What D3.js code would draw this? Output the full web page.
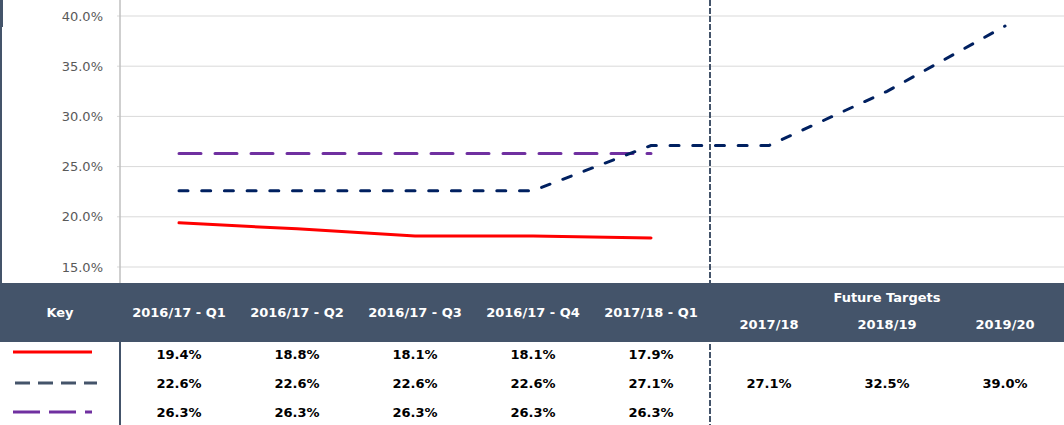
<!DOCTYPE html>
<html>
<head>
<meta charset="utf-8">
<script src="https://cdn.jsdelivr.net/npm/d3@7/dist/d3.min.js"></script>
<style>
  body { margin: 0; background: #fff; }
  svg { display: block; font-family: "DejaVu Sans", sans-serif; }
</style>
</head>
<body>
<div id="chart"></div>
<script>
// Data
const categories = ["2016/17 - Q1", "2016/17 - Q2", "2016/17 - Q3", "2016/17 - Q4", "2017/18 - Q1", "2017/18", "2018/19", "2019/20"];
const actualSeries = [19.4, 18.8, 18.1, 18.1, 17.9];
const targetSeries = [22.6, 22.6, 22.6, 22.6, 27.1, 27.1, 32.5, 39.0];
const baselineSeries = [26.3, 26.3, 26.3, 26.3, 26.3];
const yTicks = [15, 20, 25, 30, 35, 40];
const futureLabel = "Future Targets";

const width = 1064, height = 425;
const slate = "#44546a";

const svg = d3.select("#chart").append("svg")
    .attr("width", width)
    .attr("height", height);

const x = d3.scaleBand()
    .domain(categories)
    .range([120, 1064]);
const cx = d => x(d) + x.bandwidth() / 2;

const y = d3.scaleLinear()
    .domain([15, 40])
    .range([267, 16]);

// left border
svg.append("rect").attr("x", 0).attr("y", 0).attr("width", 3).attr("height", 27).attr("fill", slate);
svg.append("rect").attr("x", 0).attr("y", 27).attr("width", 2).attr("height", 256).attr("fill", slate);

// gridlines
svg.append("g").selectAll("line")
    .data(yTicks)
    .join("line")
    .attr("x1", 117).attr("x2", width)
    .attr("y1", d => y(d)).attr("y2", d => y(d))
    .attr("stroke", "#d9d9d9")
    .attr("stroke-width", 1);

// y axis
const yAxis = svg.append("g")
    .attr("transform", "translate(120,0)")
    .call(d3.axisLeft(y).tickValues(yTicks).tickSize(0).tickPadding(17).tickFormat(d => d.toFixed(1) + "%"));
yAxis.select(".domain").remove();
yAxis.selectAll("text")
    .attr("font-family", "DejaVu Sans")
    .attr("font-size", 13)
    .attr("fill", "#595959");
svg.append("line")
    .attr("x1", 120).attr("x2", 120)
    .attr("y1", 0).attr("y2", 283)
    .attr("stroke", "#bfbfbf")
    .attr("stroke-width", 1.5);

// separator between actuals and targets
const sepX = x(categories[5]);
svg.append("line")
    .attr("x1", sepX).attr("x2", sepX)
    .attr("y1", 0).attr("y2", height)
    .attr("stroke", slate)
    .attr("stroke-width", 2)
    .attr("stroke-dasharray", "6,2");

// series lines
const line = d3.line()
    .x((d, i) => cx(categories[i]))
    .y(d => y(d));

svg.append("path")
    .datum(baselineSeries)
    .attr("d", line)
    .attr("fill", "none")
    .attr("stroke", "#7030a0")
    .attr("stroke-width", 3)
    .attr("stroke-linecap", "round")
    .attr("stroke-dasharray", "22,14");

svg.append("path")
    .datum(targetSeries)
    .attr("d", line)
    .attr("fill", "none")
    .attr("stroke", "#002060")
    .attr("stroke-width", 3)
    .attr("stroke-linecap", "round")
    .attr("stroke-dasharray", "9,13.7");

svg.append("path")
    .datum(actualSeries)
    .attr("d", line)
    .attr("fill", "none")
    .attr("stroke", "#ff0000")
    .attr("stroke-width", 3)
    .attr("stroke-linecap", "round");

// table header
svg.append("rect")
    .attr("x", 0).attr("y", 283)
    .attr("width", width).attr("height", 59)
    .attr("fill", slate);

const headText = svg.append("g")
    .attr("fill", "#fff")
    .attr("font-size", 13)
    .attr("font-weight", "bold")
    .attr("text-anchor", "middle")
    .attr("dominant-baseline", "middle");

headText.append("text").attr("x", 60).attr("y", 313).text("Key");
headText.selectAll(".qh")
    .data(categories.slice(0, 5))
    .join("text")
    .attr("class", "qh")
    .attr("x", d => cx(d))
    .attr("y", 313)
    .text(d => d);
headText.append("text")
    .attr("x", cx(categories[6]))
    .attr("y", 298)
    .text(futureLabel);
headText.selectAll(".fh")
    .data(categories.slice(5))
    .join("text")
    .attr("class", "fh")
    .attr("x", d => cx(d))
    .attr("y", 325)
    .text(d => d);

// key column divider
svg.append("line")
    .attr("x1", 120).attr("x2", 120)
    .attr("y1", 342).attr("y2", height)
    .attr("stroke", slate)
    .attr("stroke-width", 2);

// table body rows
const rows = [
    { values: actualSeries, y: 355, key: { y: 352, stroke: "#ff0000", dash: null, x1: 13, x2: 92 } },
    { values: targetSeries, y: 384, key: { y: 383, stroke: slate, dash: "15,8", x1: 15, x2: 97 } },
    { values: baselineSeries, y: 413, key: { y: 412, stroke: "#7030a0", dash: "27,9", x1: 13, x2: 92 } }
];

rows.forEach(r => {
    svg.append("line")
        .attr("x1", r.key.x1).attr("x2", r.key.x2)
        .attr("y1", r.key.y).attr("y2", r.key.y)
        .attr("stroke", r.key.stroke)
        .attr("stroke-width", 3)
        .attr("stroke-dasharray", r.key.dash);

    svg.append("g").selectAll("text")
        .data(r.values)
        .join("text")
        .attr("x", (d, i) => cx(categories[i]))
        .attr("y", r.y)
        .attr("text-anchor", "middle")
        .attr("dominant-baseline", "middle")
        .attr("font-size", 13)
        .attr("font-weight", "bold")
        .attr("fill", "#000")
        .text(d => d.toFixed(1) + "%");
});
</script>
</body>
</html>
